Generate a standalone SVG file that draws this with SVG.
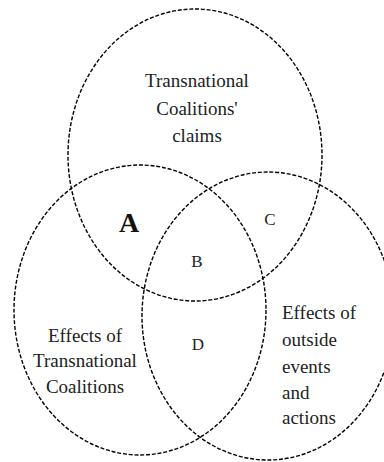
<svg xmlns="http://www.w3.org/2000/svg" width="384" height="462" viewBox="0 0 384 462">
<style>
.ring{fill:none;stroke:#000;stroke-width:1.4;stroke-dasharray:4 1.8}
.lbl{font-family:"Liberation Serif","Times New Roman",serif;font-size:19px;fill:#222}
.mid{text-anchor:middle}
.reg{font-family:"Liberation Serif","Times New Roman",serif;font-size:17px;fill:#222;text-anchor:middle}
.big{font-family:"Liberation Serif","Times New Roman",serif;font-size:28px;font-weight:bold;fill:#111;text-anchor:middle}
</style>
<rect width="384" height="462" fill="#fff"/>
<g id="claims">
<ellipse class="ring" cx="195" cy="155" rx="127" ry="146"/>
<text class="lbl mid" x="197" y="87">Transnational</text>
<text class="lbl mid" x="197" y="115">Coalitions'</text>
<text class="lbl mid" x="197" y="142">claims</text>
</g>
<g id="coalitions">
<ellipse class="ring" cx="140" cy="310" rx="126" ry="145"/>
<text class="lbl mid" x="85" y="342">Effects of</text>
<text class="lbl mid" x="85" y="367">Transnational</text>
<text class="lbl mid" x="85" y="393">Coalitions</text>
</g>
<g id="outside">
<ellipse class="ring" cx="268" cy="316" rx="126" ry="144"/>
<text class="lbl" x="282" y="319">Effects of</text>
<text class="lbl" x="282" y="346">outside</text>
<text class="lbl" x="282" y="373">events</text>
<text class="lbl" x="282" y="399">and</text>
<text class="lbl" x="282" y="424">actions</text>
</g>
<g id="regions">
<text class="big" x="129" y="232">A</text>
<text class="reg" x="197" y="267">B</text>
<text class="reg" x="270" y="225">C</text>
<text class="reg" x="198" y="350">D</text>
</g>
<g id="connectors"/>
</svg>
